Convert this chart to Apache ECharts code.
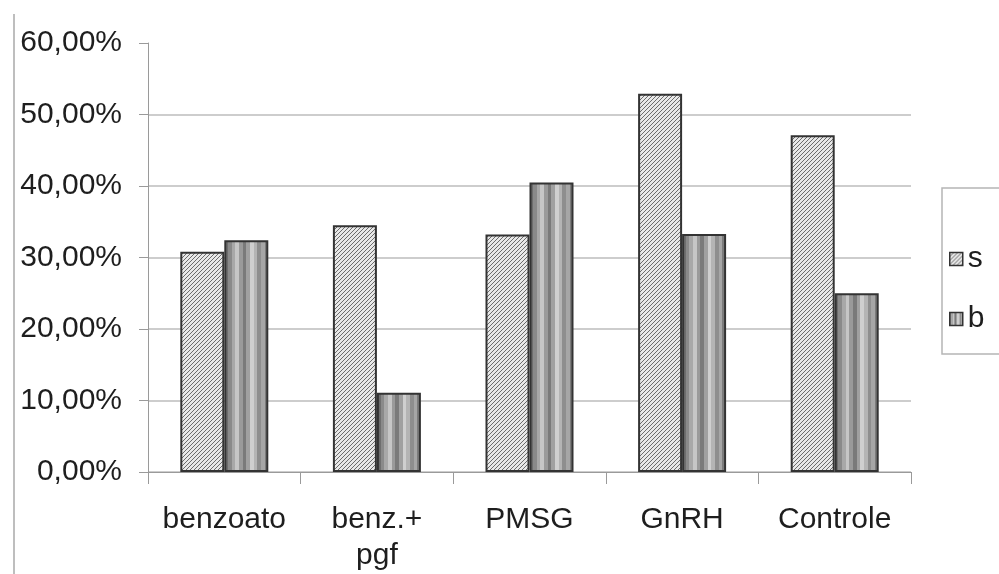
<!DOCTYPE html>
<html>
<head>
<meta charset="utf-8">
<script src="https://cdn.jsdelivr.net/npm/echarts@6/dist/echarts.min.js"></script>
<style>
html,body{margin:0;padding:0;background:#fff;}
#chart{width:999px;height:574px;}
</style>
</head>
<body>
<div id="chart"></div>
<script>
var categories = ['benzoato', 'benz.+\npgf', 'PMSG', 'GnRH', 'Controle'];
var seriesNames = ['s', 'b'];
var seriesS = [30.8, 34.5, 33.2, 52.9, 47.1];
var seriesB = [32.4, 11.1, 40.5, 33.3, 25.0];
var yTicks = [0, 10, 20, 30, 40, 50, 60];

function hatchPattern() {
  var c = document.createElement('canvas');
  c.width = 4; c.height = 4;
  var g = c.getContext('2d');
  g.fillStyle = '#e8e8e8';
  g.fillRect(0, 0, 4, 4);
  g.strokeStyle = '#6c6c6c';
  g.lineWidth = 1;
  g.beginPath();
  g.moveTo(-1, 5); g.lineTo(5, -1);
  g.moveTo(-1, 1); g.lineTo(1, -1);
  g.moveTo(3, 5); g.lineTo(5, 3);
  g.stroke();
  return c;
}
var hatch = { image: hatchPattern(), repeat: 'repeat' };

var stripeCols = ['#6e6e6e', '#8a8a8a', '#a8a8a8', '#c6c6c6', '#9a9a9a', '#7a7a7a', '#a0a0a0', '#cfcfcf', '#b4b4b4', '#8e8e8e', '#a6a6a6', '#7c7c7c'];
var stops = [];
for (var i = 0; i < stripeCols.length; i++) {
  stops.push({ offset: i / stripeCols.length, color: stripeCols[i] });
  stops.push({ offset: (i + 1) / stripeCols.length - 0.0001, color: stripeCols[i] });
}
var stripes = new echarts.graphic.LinearGradient(0, 0, 1, 0, stops);

var chart = echarts.init(document.getElementById('chart'), null, { renderer: 'canvas' });
var font = 'Liberation Sans, Arial, sans-serif';
chart.setOption({
  backgroundColor: '#fff',
  animation: false,
  textStyle: { fontFamily: font },
  grid: { left: 148, right: 88, top: 43, bottom: 101 },
  legend: {
    orient: 'vertical',
    left: 942, top: 188,
    padding: [56, 80, 20, 7],
    itemGap: 30,
    itemWidth: 13, itemHeight: 13,
    borderColor: '#b5b5b5', borderWidth: 1.5,
    textStyle: { fontSize: 30, color: '#1e1e1e', fontFamily: font },
    data: [
      { name: seriesNames[0], icon: 'rect', itemStyle: { color: hatch, borderColor: '#333', borderWidth: 1.5 } },
      { name: seriesNames[1], icon: 'rect', itemStyle: { color: stripes, borderColor: '#333', borderWidth: 1.5 } }
    ]
  },
  xAxis: {
    type: 'category',
    data: categories,
    axisLine: { lineStyle: { color: '#9a9a9a', width: 1 } },
    axisTick: { show: true, length: 12, alignWithLabel: false, lineStyle: { color: '#9a9a9a' } },
    axisLabel: { fontSize: 30, color: '#1e1e1e', lineHeight: 36, margin: 30, fontFamily: font, interval: 0 }
  },
  yAxis: {
    type: 'value',
    min: yTicks[0], max: yTicks[yTicks.length - 1], interval: 10,
    axisLine: { show: true, lineStyle: { color: '#9a9a9a', width: 1 } },
    axisTick: { show: true, length: 9, lineStyle: { color: '#9a9a9a' } },
    axisLabel: {
      fontSize: 30, color: '#1e1e1e', margin: 26, fontFamily: font,
      formatter: function (v) { return v.toFixed(2).replace('.', ',') + '%'; }
    },
    splitLine: { show: true, showMaxLine: false, lineStyle: { color: '#bdbdbd', width: 1.5 } }
  },
  series: [
    {
      name: seriesNames[0], type: 'bar', data: seriesS,
      barWidth: 44, barGap: '0%',
      itemStyle: { color: hatch, borderColor: '#333', borderWidth: 2 }
    },
    {
      name: seriesNames[1], type: 'bar', data: seriesB,
      barWidth: 44, barGap: '0%',
      itemStyle: { color: stripes, borderColor: '#333', borderWidth: 2 }
    }
  ],
  graphic: [
    { type: 'line', shape: { x1: 14, y1: 14, x2: 14, y2: 574 }, style: { stroke: '#a8a8a8', lineWidth: 1.5 } }
  ]
});
</script>
</body>
</html>
